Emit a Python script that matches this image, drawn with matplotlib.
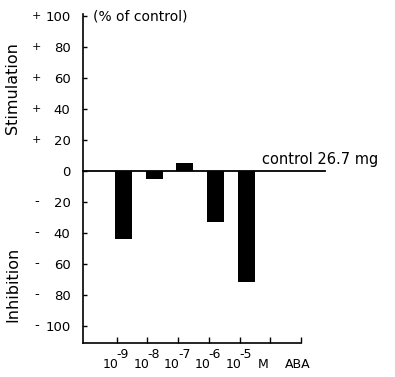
import matplotlib
matplotlib.use("Agg")
import matplotlib.pyplot as plt

# Data
exponents = ["-9", "-8", "-7", "-6", "-5"]
values = [-44, -5, 5, -33, -72]
yticks = [-100, -80, -60, -40, -20, 0, 20, 40, 60, 80, 100]
control_label = "control 26.7 mg"

plt.rcParams['font.family'] = ['DejaVu Sans']

fig = plt.figure(figsize=(3.95, 3.77), dpi=100)
ax = fig.add_axes([83/395, 1 - 343/377, 218/395, (343 - 14)/377])

pos = list(range(1, len(values) + 1))
ax.bar([p - 0.06 for p in pos], values, width=0.55, align='edge', color='black')

ax.set_xlim(-0.1, 7.0)
ax.set_ylim(-111, 101)

for s in ['top', 'right']:
    ax.spines[s].set_visible(False)
for s in ['left', 'bottom']:
    ax.spines[s].set_linewidth(1.2)

ax.set_xticks(range(1, 8))
ax.set_xticklabels([])
ax.tick_params(axis='x', direction='in', length=4, width=1)

ax.set_yticks(yticks)
ax.set_yticklabels([str(abs(v)) for v in yticks], fontsize=9.5)
ax.tick_params(axis='y', direction='in', length=3, width=1, pad=9)

# sign marks left of tick labels
ytrans = ax.get_yaxis_transform()
for v in yticks:
    if v > 0:
        ax.text(-(83 - 36) / 218, v, "+", transform=ytrans, fontsize=8,
                ha='center', va='center')
    elif v < 0:
        ax.text(-(83 - 37) / 218, v, "-", transform=ytrans,
                fontsize=9.5, ha='center', va='center')

# control line
ax.plot([-0.1, 7.79], [0, 0], color='black', lw=1.3, clip_on=False, zorder=3)
ax.text(5.72, 2.5, control_label, fontsize=10.5, ha='left', va='bottom',
        clip_on=False)

# title
fig.text(93/395, 1 - 16/377, "(% of control)", fontsize=10, ha='left', va='center')

# y labels
fig.text(13/395, 1 - 88/377, "Stimulation", rotation=90, fontsize=11.5,
         ha='center', va='center')
fig.text(13/395, 1 - 284/377, "Inhibition", rotation=90, fontsize=11.5,
         ha='center', va='center')

# x labels: 10^exp
for p, e in zip(pos, exponents):
    ax.text(p - 0.2, -125, "10", fontsize=9, ha='center', va='center', clip_on=False)
    ax.text(p + 0.2, -118.5, e, fontsize=9, ha='center', va='center', clip_on=False)
ax.text(5.77, -125, "M", fontsize=9, ha='center', va='center', clip_on=False)
ax.text(6.88, -125, "ABA", fontsize=9, ha='center', va='center', clip_on=False)

fig.savefig("out.png", dpi=100)
